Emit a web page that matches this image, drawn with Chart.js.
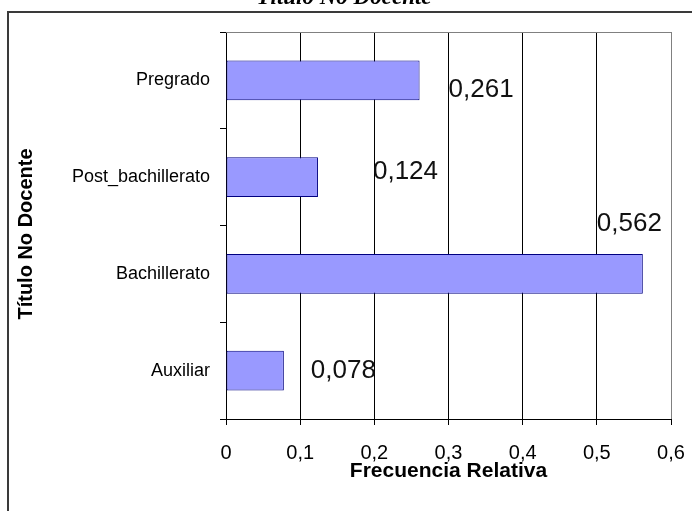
<!DOCTYPE html>
<html>
<head>
<meta charset="utf-8">
<script src="https://cdn.jsdelivr.net/npm/chart.js@4"></script>
<style>
  html, body { margin: 0; padding: 0; background: #fff; }
  canvas { display: block; }
</style>
</head>
<body>
<canvas id="c" width="692" height="511"></canvas>
<script>
// Título no docente: frecuencia relativa por categoría
const categories = ['Pregrado', 'Post_bachillerato', 'Bachillerato', 'Auxiliar'];
const frecuencias = [0.261, 0.124, 0.562, 0.078];
const xTicks = [0, 0.1, 0.2, 0.3, 0.4, 0.5, 0.6];

// where each value label sits, relative to the bar end / bar centre (px)
const labelOffsets = [[29, 9], [55, -5], [-46, -50], [27, 0]];

const SANS = '"Liberation Sans", Arial, sans-serif';
const fmt = v => v === 0 ? '0' : String(v).replace('.', ',');

const decor = {
  id: 'decor',
  beforeDraw(chart) {
    const ctx = chart.ctx;
    ctx.save();
    ctx.fillStyle = '#fff';
    ctx.fillRect(0, 0, chart.width, chart.height);
    // outer chart frame
    ctx.strokeStyle = '#3a3a3a';
    ctx.lineWidth = 2;
    ctx.strokeRect(8, 12, chart.width + 20, chart.height + 20);
    // heading
    ctx.fillStyle = '#000';
    ctx.font = 'bold italic 23px "Liberation Serif", "Times New Roman", serif';
    ctx.textAlign = 'center';
    ctx.textBaseline = 'alphabetic';
    ctx.fillText('Título No Docente', 344, 4);
    ctx.restore();
  },
  beforeDatasetsDraw(chart) {
    const {ctx, chartArea: a} = chart;
    ctx.save();
    ctx.strokeStyle = '#808080';
    ctx.lineWidth = 1;
    ctx.beginPath();
    ctx.moveTo(a.left, a.top + 0.5);
    ctx.lineTo(a.right + 0.5, a.top + 0.5);
    ctx.stroke();
    ctx.restore();
  },
  afterDatasetsDraw(chart) {
    const ctx = chart.ctx;
    const meta = chart.getDatasetMeta(0);
    ctx.save();
    ctx.fillStyle = '#111';
    ctx.font = '26px ' + SANS;
    ctx.textAlign = 'left';
    ctx.textBaseline = 'middle';
    meta.data.forEach((bar, i) => {
      const [dx, dy] = labelOffsets[i];
      ctx.fillText(frecuencias[i].toFixed(3).replace('.', ','), bar.x + dx, bar.y + dy);
    });
    ctx.restore();
  },
  afterDraw(chart) {
    const ctx = chart.ctx;
    ctx.save();
    ctx.translate(26, 234);
    ctx.rotate(-Math.PI / 2);
    ctx.fillStyle = '#000';
    ctx.font = 'bold 20px ' + SANS;
    ctx.textAlign = 'center';
    ctx.textBaseline = 'middle';
    ctx.fillText('Título No Docente', 0, 0);
    ctx.restore();
  }
};

new Chart(document.getElementById('c'), {
  type: 'bar',
  data: {
    labels: categories,
    datasets: [{
      data: frecuencias,
      backgroundColor: '#9999ff',
      borderColor: '#000080',
      borderWidth: 1,
      borderSkipped: false,
      categoryPercentage: 1,
      barPercentage: 0.41
    }]
  },
  options: {
    indexAxis: 'y',
    responsive: false,
    animation: false,
    devicePixelRatio: 1,
    layout: { padding: { top: 32, right: 21, bottom: 0, left: 0 } },
    plugins: {
      legend: { display: false },
      tooltip: { enabled: false },
      title: { display: false }
    },
    scales: {
      x: {
        min: 0,
        max: 0.6,
        afterBuildTicks: s => { s.ticks = xTicks.map(v => ({ value: v })); },
        afterFit: s => { s.height = 92; s.paddingLeft = 0; s.paddingRight = 0; },
        grid: {
          color: c => c.index === xTicks.length - 1 ? '#808080' : '#000',
          tickColor: '#000',
          tickLength: 6,
          lineWidth: 1
        },
        border: { color: '#000', width: 1 },
        ticks: {
          font: { family: SANS, size: 20 },
          color: '#000',
          padding: 16,
          maxRotation: 0,
          callback: v => fmt(v)
        },
        title: {
          display: true,
          text: 'Frecuencia Relativa',
          font: { family: SANS, size: 21, weight: 'bold' },
          color: '#000',
          padding: { top: 0, bottom: 27 }
        }
      },
      y: {
        afterFit: s => { s.width = 226; },
        grid: {
          drawOnChartArea: false,
          tickLength: 6,
          tickColor: '#000',
          offset: true
        },
        border: { color: '#000', width: 1 },
        ticks: {
          font: { family: SANS, size: 18 },
          color: '#000',
          padding: 10
        }
      }
    }
  },
  plugins: [decor]
});
</script>
</body>
</html>
